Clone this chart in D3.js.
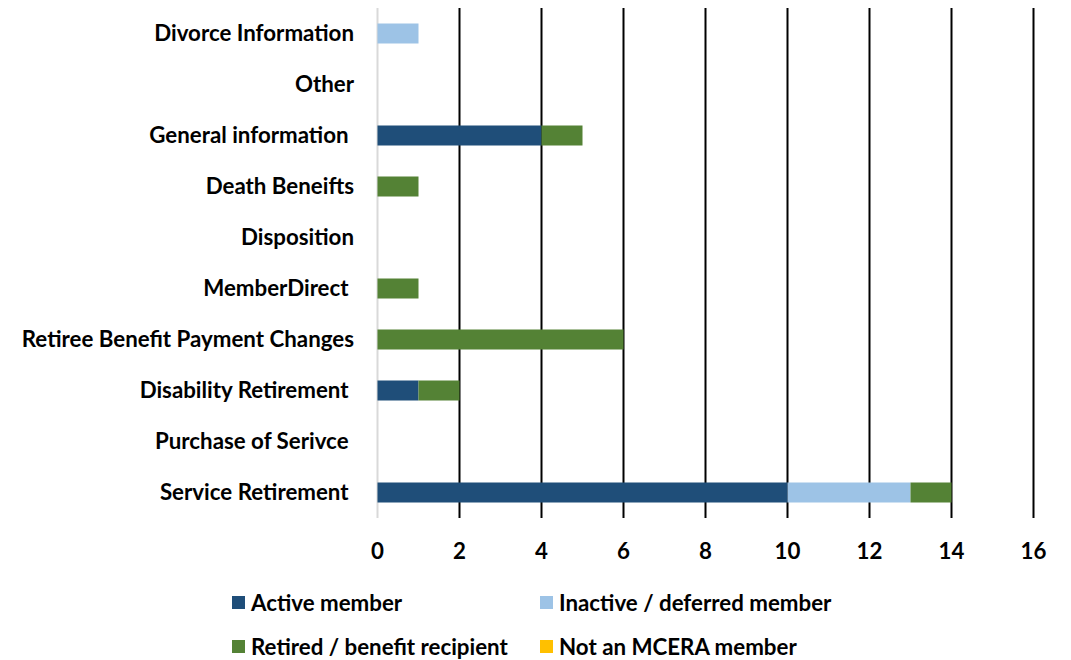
<!DOCTYPE html>
<html><head><meta charset="utf-8">
<script src="https://cdn.jsdelivr.net/npm/d3@7"></script>
<style>
body{margin:0;background:#fff;}
text{font-family:Lato,"Open Sans",sans-serif;font-weight:bold;fill:#000;white-space:pre;}
</style></head>
<body><svg id="c" width="1071" height="660"></svg>
<script>
const categories = ["Divorce Information","Other","General information ","Death Beneifts","Disposition","MemberDirect ","Retiree Benefit Payment Changes","Disability Retirement ","Purchase of Serivce ","Service Retirement "];
const seriesNames = ["Active member","Inactive / deferred member","Retired / benefit recipient","Not an MCERA member"];
const activeMember   = [0,0,4,0,0,0,0,1,0,10];
const inactiveMember = [1,0,0,0,0,0,0,0,0,3];
const retiredMember  = [0,0,1,1,0,1,6,1,0,1];
const notMember      = [0,0,0,0,0,0,0,0,0,0];
const xTicks = [0,2,4,6,8,10,12,14,16];
const colors = ["#1f4e79","#9dc3e6","#548235","#ffc000"];

(function(){
const svg = d3.select("#c");
const pL = 377.5, pR = 1033.5, pT = 8, pB = 518;
const fs = 22.3;
const x = d3.scaleLinear().domain([0,16]).range([pL,pR]);
const yc = d3.scaleBand().domain(categories).range([pT,pB]);

svg.append("g").selectAll("line").data(xTicks.filter(d=>d>0)).join("line")
  .attr("x1",d=>x(d)).attr("x2",d=>x(d)).attr("y1",pT).attr("y2",pB)
  .attr("stroke","#000").attr("stroke-width",2);
svg.append("line").attr("x1",x(0)).attr("x2",x(0)).attr("y1",pT).attr("y2",pB)
  .attr("stroke","#d9d9d9").attr("stroke-width",2);

const table = categories.map((c,i)=>({cat:c, s0:activeMember[i], s1:inactiveMember[i], s2:retiredMember[i], s3:notMember[i]}));
const stack = d3.stack().keys(["s0","s1","s2","s3"])(table);
const bh = 20;
svg.append("g").selectAll("g").data(stack).join("g").attr("fill",(d,i)=>colors[i])
  .selectAll("rect").data(d=>d.filter(p=>p[1]-p[0]>0)).join("rect")
  .attr("x",d=>x(d[0])).attr("width",d=>x(d[1])-x(d[0]))
  .attr("y",d=>yc(d.data.cat)+yc.bandwidth()/2-bh/2).attr("height",bh);

svg.append("g").selectAll("text").data(categories).join("text")
  .attr("x",354).attr("y",d=>yc(d)+yc.bandwidth()/2).attr("dy","0.35em")
  .attr("text-anchor","end").attr("font-size",fs).text(d=>d);

svg.append("g").selectAll("text").data(xTicks).join("text")
  .attr("x",d=>x(d)).attr("y",551).attr("dy","0.35em").attr("text-anchor","middle")
  .attr("font-size",fs).text(d=>d);

const legPos = [[232,603],[540,603],[232,647],[540,647]];
const lg = svg.append("g").selectAll("g").data(seriesNames).join("g")
  .attr("transform",(d,i)=>`translate(${legPos[i][0]},${legPos[i][1]})`);
lg.append("rect").attr("x",0).attr("y",-7).attr("width",13).attr("height",13).attr("fill",(d,i)=>colors[i]);
lg.append("text").attr("x",19).attr("y",0).attr("dy","0.35em").attr("font-size",fs).text(d=>d);
})();
</script></body></html>
